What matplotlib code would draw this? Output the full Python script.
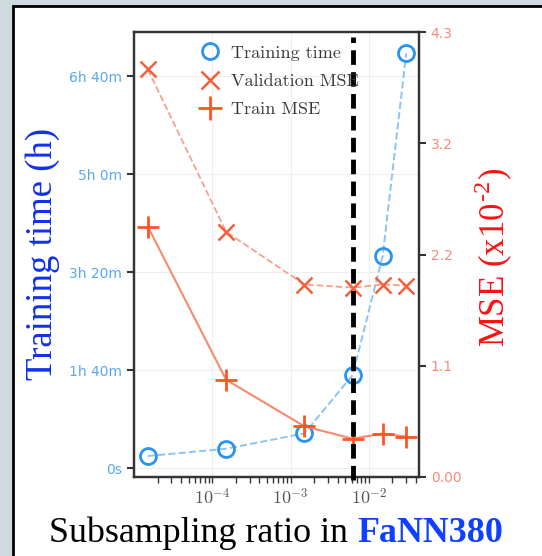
import matplotlib
matplotlib.use("Agg")
import matplotlib.pyplot as plt
from matplotlib.patches import Rectangle
from matplotlib.lines import Line2D

ratios = [1.5e-5, 1.5e-4, 1.5e-3, 6.2e-3, 1.5e-2, 3.0e-2]
train_time_s = [735, 1180, 2120, 5690, 12980, 25400]
val_mse = [3.94, 2.37, 1.86, 1.83, 1.86, 1.85]
train_mse = [2.42, 0.94, 0.49, 0.37, 0.42, 0.39]
chosen_ratio = 6.2e-3
left_ticks = [0, 6000, 12000, 18000, 24000]
left_labels = ["0s", "1h 40m", "3h 20m", "5h 0m", "6h 40m"]
right_ticks = [0, 1.075, 2.15, 3.225, 4.3]
right_labels = ["0.00", "1.1", "2.2", "3.2", "4.3"]
x_ticks = [1e-4, 1e-3, 1e-2]
x_labels = [r"$10^{-4}$", r"$10^{-3}$", r"$10^{-2}$"]

plt.rcParams['mathtext.fontset'] = 'cm'

W, H = 542, 556
fig = plt.figure(figsize=(W/100, H/100), dpi=100, facecolor='#cfd9e0')
fig.patches.append(Rectangle((13/W, -0.01), 1.0, (H-6)/H + 0.01, transform=fig.transFigure,
                             facecolor='white', edgecolor='black', linewidth=2, zorder=-10))

ax = fig.add_axes([134/W, 1-477/H, (419-134)/W, (477-32)/H])
ax.set_facecolor('white')
ax.set_xscale('log')
ax.set_xlim(1e-5, 10**-1.36)
ax.set_ylim(-550, 26700)
ax.set_xticks(x_ticks)
ax.set_xticklabels(x_labels)

blue = '#2a93f0'
blue_line = '#8cc4f5'
red = '#f5603c'
red_line = '#f7a090'
orange = '#ff5522'
orange_line = '#f78a6e'

ax.grid(True, color='#eeeeee', linewidth=0.8)
ax.plot(ratios, train_time_s, linestyle='--', color=blue_line, linewidth=1.4, zorder=3)
ax.plot(ratios, train_time_s, linestyle='none', marker='o', markersize=11.5, markerfacecolor='none',
        markeredgecolor=blue, markeredgewidth=2, zorder=4)

ax.set_yticks(left_ticks)
ax.set_yticklabels(left_labels, fontsize=10, color='#5aa8f0', family='DejaVu Sans')
ax.tick_params(axis='y', direction='out', length=5, width=1.5, color='#333333')
ax.tick_params(axis='x', which='both', direction='out', length=4, width=1, color='#333333',
               labelsize=13, labelcolor='#555555')
for s in ax.spines.values():
    s.set_color('#333333')
    s.set_linewidth(1.6)

ax2 = ax.twinx()
ax2.set_ylim(0, 4.3)
ax2.plot(ratios, val_mse, linestyle='--', color=red_line, linewidth=1.3, zorder=3)
ax2.plot(ratios, val_mse, linestyle='none', marker='x', markersize=12, markeredgecolor=red,
         markeredgewidth=1.8, zorder=4)
ax2.plot(ratios, train_mse, linestyle='-', color=orange_line, linewidth=1.5, zorder=3)
ax2.plot(ratios, train_mse, linestyle='none', marker='+', markersize=16, markeredgecolor=orange,
         markeredgewidth=2, zorder=4)
ax2.axvline(chosen_ratio, ymin=-0.007, ymax=(477-37)/445, color='black', linestyle=(0, (3, 1.5)),
            linewidth=3.5, zorder=5, clip_on=False)
ax2.set_yticks(right_ticks)
ax2.set_yticklabels(right_labels, fontsize=10, color='#f58a7a', family='DejaVu Sans')
ax2.tick_params(axis='y', direction='out', length=5, width=1.5, color='#333333')
for s in ax2.spines.values():
    s.set_color('#333333')
    s.set_linewidth(1.6)

handles = [
    Line2D([], [], linestyle='none', marker='o', markersize=11.5, markerfacecolor='none',
           markeredgecolor=blue, markeredgewidth=2),
    Line2D([], [], linestyle='none', marker='x', markersize=13, markeredgecolor=red, markeredgewidth=1.8),
    Line2D([], [], linestyle='none', marker='+', markersize=17, markeredgecolor=orange, markeredgewidth=2),
]
leg = ax2.legend(handles, ["Training time", "Validation MSE", "Train MSE"], loc='upper left',
                 bbox_to_anchor=(0.165, 0.995), frameon=False, handletextpad=0.15, labelspacing=0.7,
                 prop={'family': 'cmr10', 'size': 13}, borderaxespad=0.2)
for t in leg.get_texts():
    t.set_color('#3a3a3a')

fig.text(43/W, 1-254/H, "Training time (h)", rotation=90, ha='center', va='center',
         fontsize=26.5, color='#1030ee', family='Liberation Serif')
fig.text(493/W, 1-257/H, "MSE (x10$^{\\mathregular{\u20102}}$)", rotation=90, ha='center', va='center',
         fontsize=25, color='#ff1010', family='Liberation Serif')
t1 = fig.text(49/W, 1-533/H, "Subsampling ratio in ", ha='left', va='center',
              fontsize=25.8, color='black', family='Liberation Serif')
fig.canvas.draw()
bb = t1.get_window_extent()
fig.text(bb.x1/W, 1-533/H, "FaNN380", ha='left', va='center', fontsize=25.8, color='#1040ff',
         family='Liberation Serif', weight='bold')

fig.savefig('out.png', dpi=100, facecolor=fig.get_facecolor())
